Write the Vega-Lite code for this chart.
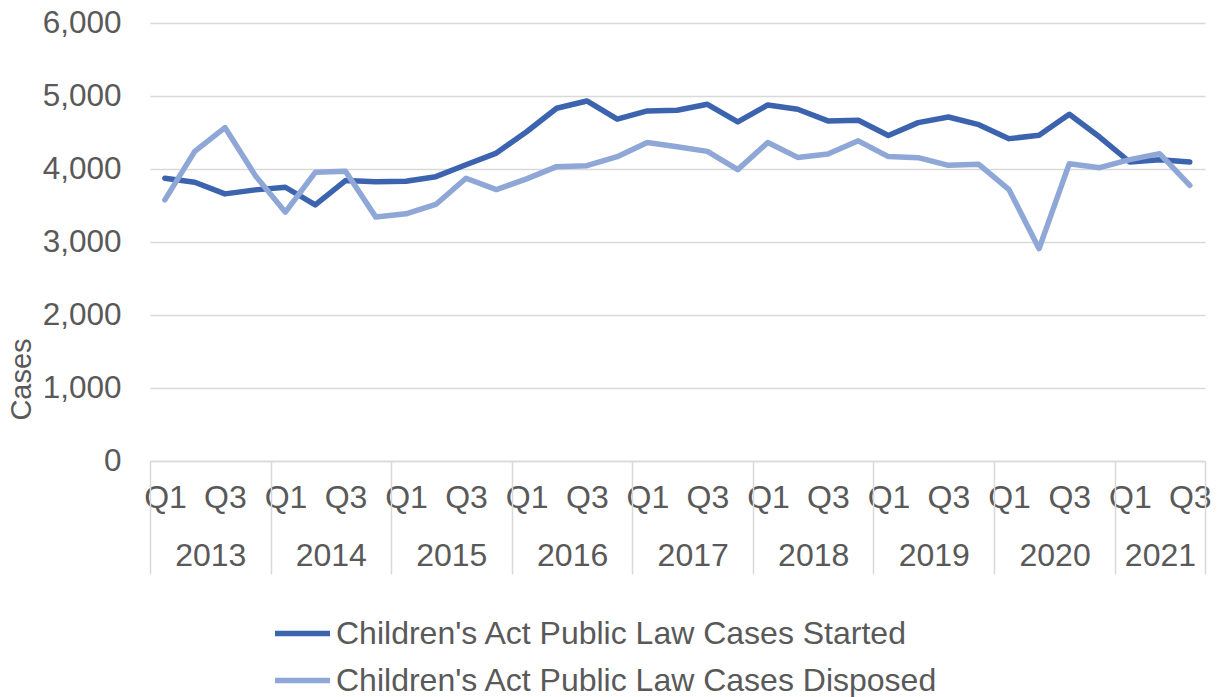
{
  "$schema": "https://vega.github.io/schema/vega-lite/v6.json",
  "width": 1055,
  "height": 438,
  "autosize": {"type": "none"},
  "padding": {"left": 150, "top": 23, "right": 15, "bottom": 236},
  "background": "white",
  "config": {"font": "Liberation Sans", "view": {"stroke": null}},
  "data": {
    "values": [
      {"quarter": "2013-01-01", "series": "Children's Act Public Law Cases Started", "cases": 3873},
      {"quarter": "2013-04-01", "series": "Children's Act Public Law Cases Started", "cases": 3818},
      {"quarter": "2013-07-01", "series": "Children's Act Public Law Cases Started", "cases": 3659},
      {"quarter": "2013-10-01", "series": "Children's Act Public Law Cases Started", "cases": 3714},
      {"quarter": "2014-01-01", "series": "Children's Act Public Law Cases Started", "cases": 3750},
      {"quarter": "2014-04-01", "series": "Children's Act Public Law Cases Started", "cases": 3509},
      {"quarter": "2014-07-01", "series": "Children's Act Public Law Cases Started", "cases": 3841},
      {"quarter": "2014-10-01", "series": "Children's Act Public Law Cases Started", "cases": 3827},
      {"quarter": "2015-01-01", "series": "Children's Act Public Law Cases Started", "cases": 3832},
      {"quarter": "2015-04-01", "series": "Children's Act Public Law Cases Started", "cases": 3895},
      {"quarter": "2015-07-01", "series": "Children's Act Public Law Cases Started", "cases": 4059},
      {"quarter": "2015-10-01", "series": "Children's Act Public Law Cases Started", "cases": 4218},
      {"quarter": "2016-01-01", "series": "Children's Act Public Law Cases Started", "cases": 4510},
      {"quarter": "2016-04-01", "series": "Children's Act Public Law Cases Started", "cases": 4832},
      {"quarter": "2016-07-01", "series": "Children's Act Public Law Cases Started", "cases": 4932},
      {"quarter": "2016-10-01", "series": "Children's Act Public Law Cases Started", "cases": 4682},
      {"quarter": "2017-01-01", "series": "Children's Act Public Law Cases Started", "cases": 4795},
      {"quarter": "2017-04-01", "series": "Children's Act Public Law Cases Started", "cases": 4805},
      {"quarter": "2017-07-01", "series": "Children's Act Public Law Cases Started", "cases": 4886},
      {"quarter": "2017-10-01", "series": "Children's Act Public Law Cases Started", "cases": 4645},
      {"quarter": "2018-01-01", "series": "Children's Act Public Law Cases Started", "cases": 4877},
      {"quarter": "2018-04-01", "series": "Children's Act Public Law Cases Started", "cases": 4818},
      {"quarter": "2018-07-01", "series": "Children's Act Public Law Cases Started", "cases": 4659},
      {"quarter": "2018-10-01", "series": "Children's Act Public Law Cases Started", "cases": 4668},
      {"quarter": "2019-01-01", "series": "Children's Act Public Law Cases Started", "cases": 4458},
      {"quarter": "2019-04-01", "series": "Children's Act Public Law Cases Started", "cases": 4635},
      {"quarter": "2019-07-01", "series": "Children's Act Public Law Cases Started", "cases": 4712},
      {"quarter": "2019-10-01", "series": "Children's Act Public Law Cases Started", "cases": 4607},
      {"quarter": "2020-01-01", "series": "Children's Act Public Law Cases Started", "cases": 4416},
      {"quarter": "2020-04-01", "series": "Children's Act Public Law Cases Started", "cases": 4461},
      {"quarter": "2020-07-01", "series": "Children's Act Public Law Cases Started", "cases": 4749},
      {"quarter": "2020-10-01", "series": "Children's Act Public Law Cases Started", "cases": 4438},
      {"quarter": "2021-01-01", "series": "Children's Act Public Law Cases Started", "cases": 4096},
      {"quarter": "2021-04-01", "series": "Children's Act Public Law Cases Started", "cases": 4128},
      {"quarter": "2021-07-01", "series": "Children's Act Public Law Cases Started", "cases": 4096},
      {"quarter": "2013-01-01", "series": "Children's Act Public Law Cases Disposed", "cases": 3577},
      {"quarter": "2013-04-01", "series": "Children's Act Public Law Cases Disposed", "cases": 4241},
      {"quarter": "2013-07-01", "series": "Children's Act Public Law Cases Disposed", "cases": 4568},
      {"quarter": "2013-10-01", "series": "Children's Act Public Law Cases Disposed", "cases": 3909},
      {"quarter": "2014-01-01", "series": "Children's Act Public Law Cases Disposed", "cases": 3409},
      {"quarter": "2014-04-01", "series": "Children's Act Public Law Cases Disposed", "cases": 3955},
      {"quarter": "2014-07-01", "series": "Children's Act Public Law Cases Disposed", "cases": 3968},
      {"quarter": "2014-10-01", "series": "Children's Act Public Law Cases Disposed", "cases": 3341},
      {"quarter": "2015-01-01", "series": "Children's Act Public Law Cases Disposed", "cases": 3386},
      {"quarter": "2015-04-01", "series": "Children's Act Public Law Cases Disposed", "cases": 3514},
      {"quarter": "2015-07-01", "series": "Children's Act Public Law Cases Disposed", "cases": 3873},
      {"quarter": "2015-10-01", "series": "Children's Act Public Law Cases Disposed", "cases": 3718},
      {"quarter": "2016-01-01", "series": "Children's Act Public Law Cases Disposed", "cases": 3865},
      {"quarter": "2016-04-01", "series": "Children's Act Public Law Cases Disposed", "cases": 4032},
      {"quarter": "2016-07-01", "series": "Children's Act Public Law Cases Disposed", "cases": 4045},
      {"quarter": "2016-10-01", "series": "Children's Act Public Law Cases Disposed", "cases": 4168},
      {"quarter": "2017-01-01", "series": "Children's Act Public Law Cases Disposed", "cases": 4364},
      {"quarter": "2017-04-01", "series": "Children's Act Public Law Cases Disposed", "cases": 4305},
      {"quarter": "2017-07-01", "series": "Children's Act Public Law Cases Disposed", "cases": 4241},
      {"quarter": "2017-10-01", "series": "Children's Act Public Law Cases Disposed", "cases": 3991},
      {"quarter": "2018-01-01", "series": "Children's Act Public Law Cases Disposed", "cases": 4364},
      {"quarter": "2018-04-01", "series": "Children's Act Public Law Cases Disposed", "cases": 4159},
      {"quarter": "2018-07-01", "series": "Children's Act Public Law Cases Disposed", "cases": 4205},
      {"quarter": "2018-10-01", "series": "Children's Act Public Law Cases Disposed", "cases": 4386},
      {"quarter": "2019-01-01", "series": "Children's Act Public Law Cases Disposed", "cases": 4170},
      {"quarter": "2019-04-01", "series": "Children's Act Public Law Cases Disposed", "cases": 4155},
      {"quarter": "2019-07-01", "series": "Children's Act Public Law Cases Disposed", "cases": 4050},
      {"quarter": "2019-10-01", "series": "Children's Act Public Law Cases Disposed", "cases": 4064},
      {"quarter": "2020-01-01", "series": "Children's Act Public Law Cases Disposed", "cases": 3717},
      {"quarter": "2020-04-01", "series": "Children's Act Public Law Cases Disposed", "cases": 2909},
      {"quarter": "2020-07-01", "series": "Children's Act Public Law Cases Disposed", "cases": 4073},
      {"quarter": "2020-10-01", "series": "Children's Act Public Law Cases Disposed", "cases": 4018},
      {"quarter": "2021-01-01", "series": "Children's Act Public Law Cases Disposed", "cases": 4128},
      {"quarter": "2021-04-01", "series": "Children's Act Public Law Cases Disposed", "cases": 4210},
      {"quarter": "2021-07-01", "series": "Children's Act Public Law Cases Disposed", "cases": 3776}
    ]
  },
  "encoding": {
    "y": {
      "field": "cases",
      "type": "quantitative",
      "scale": {"domain": [0, 6000], "nice": false},
      "axis": {
        "values": [0, 1000, 2000, 3000, 4000, 5000, 6000],
        "format": ",.0f",
        "ticks": false,
        "tickSize": 0,
        "domain": false,
        "grid": true,
        "gridColor": "#d9d9d9",
        "gridWidth": 1.5,
        "labelFontSize": 31.5,
        "labelColor": "#595959",
        "labelPadding": 29,
        "title": "Cases",
        "titleFontSize": 29,
        "titleFontWeight": "normal",
        "titleColor": "#595959",
        "titleAngle": 270,
        "titleAlign": "center",
        "titleBaseline": "alphabetic",
        "titleX": -120,
        "titleY": 356
      }
    }
  },
  "layer": [
    {
      "mark": {"type": "line", "strokeWidth": 5.5, "strokeCap": "round", "strokeJoin": "round"},
      "encoding": {
        "x": {
          "field": "quarter",
          "type": "temporal",
          "timeUnit": "utcyearquarter",
          "bandPosition": 0.5,
          "scale": {"type": "utc", "domain": [{"year": 2013, "month": 1, "date": 1, "utc": true}, {"year": 2021, "month": 10, "date": 1, "utc": true}]},
          "axis": {
            "orient": "bottom",
            "title": null,
            "values": [
              {"year": 2013, "month": 2, "date": 15, "hours": 12, "utc": true},
              {"year": 2013, "month": 8, "date": 16, "utc": true},
              {"year": 2014, "month": 2, "date": 15, "hours": 12, "utc": true},
              {"year": 2014, "month": 8, "date": 16, "utc": true},
              {"year": 2015, "month": 2, "date": 15, "hours": 12, "utc": true},
              {"year": 2015, "month": 8, "date": 16, "utc": true},
              {"year": 2016, "month": 2, "date": 15, "hours": 12, "utc": true},
              {"year": 2016, "month": 8, "date": 16, "utc": true},
              {"year": 2017, "month": 2, "date": 15, "hours": 12, "utc": true},
              {"year": 2017, "month": 8, "date": 16, "utc": true},
              {"year": 2018, "month": 2, "date": 15, "hours": 12, "utc": true},
              {"year": 2018, "month": 8, "date": 16, "utc": true},
              {"year": 2019, "month": 2, "date": 15, "hours": 12, "utc": true},
              {"year": 2019, "month": 8, "date": 16, "utc": true},
              {"year": 2020, "month": 2, "date": 15, "hours": 12, "utc": true},
              {"year": 2020, "month": 8, "date": 16, "utc": true},
              {"year": 2021, "month": 2, "date": 15, "hours": 12, "utc": true},
              {"year": 2021, "month": 8, "date": 16, "utc": true}
            ],
            "labelExpr": "utcmonth(datum.value) < 6 ? 'Q1' : 'Q3'",
            "ticks": false,
            "domain": true,
            "domainColor": "#d9d9d9",
            "domainWidth": 1.5,
            "grid": false,
            "labelFontSize": 32,
            "labelColor": "#595959",
            "labelPadding": 21,
            "labelOverlap": false,
            "labelFlush": false,
            "labelBound": false
          }
        },
        "color": {
          "field": "series",
          "type": "nominal",
          "scale": {
            "domain": ["Children's Act Public Law Cases Started", "Children's Act Public Law Cases Disposed"],
            "range": ["#3C64AE", "#8FA7D7"]
          },
          "legend": {
            "orient": "none",
            "legendX": 122,
            "legendY": 580,
            "direction": "vertical",
            "title": null,
            "padding": 0,
            "symbolType": "stroke",
            "symbolSize": 3025,
            "symbolStrokeWidth": 5.5,
            "labelFontSize": 32,
            "labelColor": "#595959",
            "labelOffset": 3,
            "labelLimit": 0,
            "rowPadding": -1,
            "symbolOpacity": 1
          }
        }
      }
    },
    {
      "mark": {"type": "point", "opacity": 0},
      "encoding": {
        "x": {
          "field": "quarter",
          "type": "temporal",
          "timeUnit": "utcyearquarter",
          "bandPosition": 0.5,
          "scale": {"type": "utc", "domain": [{"year": 2013, "month": 1, "date": 1, "utc": true}, {"year": 2021, "month": 10, "date": 1, "utc": true}]},
          "axis": {
            "orient": "bottom",
            "title": null,
            "values": [
              {"year": 2013, "month": 1, "date": 1, "utc": true},
              {"year": 2014, "month": 1, "date": 1, "utc": true},
              {"year": 2015, "month": 1, "date": 1, "utc": true},
              {"year": 2016, "month": 1, "date": 1, "utc": true},
              {"year": 2017, "month": 1, "date": 1, "utc": true},
              {"year": 2018, "month": 1, "date": 1, "utc": true},
              {"year": 2019, "month": 1, "date": 1, "utc": true},
              {"year": 2020, "month": 1, "date": 1, "utc": true},
              {"year": 2021, "month": 1, "date": 1, "utc": true},
              {"year": 2021, "month": 10, "date": 1, "utc": true}
            ],
            "labels": false,
            "ticks": true,
            "tickSize": 113,
            "tickColor": "#d9d9d9",
            "tickWidth": 1.5,
            "domain": false,
            "grid": false
          }
        }
      }
    },
    {
      "mark": {"type": "point", "opacity": 0},
      "encoding": {
        "x": {
          "field": "quarter",
          "type": "temporal",
          "timeUnit": "utcyearquarter",
          "bandPosition": 0.5,
          "scale": {"type": "utc", "domain": [{"year": 2013, "month": 1, "date": 1, "utc": true}, {"year": 2021, "month": 10, "date": 1, "utc": true}]},
          "axis": {
            "orient": "bottom",
            "title": null,
            "values": [
              {"year": 2013, "month": 7, "date": 2, "hours": 12, "utc": true},
              {"year": 2014, "month": 7, "date": 2, "hours": 12, "utc": true},
              {"year": 2015, "month": 7, "date": 2, "hours": 12, "utc": true},
              {"year": 2016, "month": 7, "date": 2, "hours": 12, "utc": true},
              {"year": 2017, "month": 7, "date": 2, "hours": 12, "utc": true},
              {"year": 2018, "month": 7, "date": 2, "hours": 12, "utc": true},
              {"year": 2019, "month": 7, "date": 2, "hours": 12, "utc": true},
              {"year": 2020, "month": 7, "date": 2, "hours": 12, "utc": true},
              {"year": 2021, "month": 5, "date": 17, "hours": 12, "utc": true}
            ],
            "labelExpr": "'' + utcyear(datum.value)",
            "ticks": false,
            "domain": false,
            "grid": false,
            "labelFontSize": 32,
            "labelColor": "#595959",
            "labelPadding": 79,
            "labelOverlap": false,
            "labelFlush": false,
            "labelBound": false
          }
        }
      }
    }
  ],
  "resolve": {"axis": {"x": "independent"}}
}
